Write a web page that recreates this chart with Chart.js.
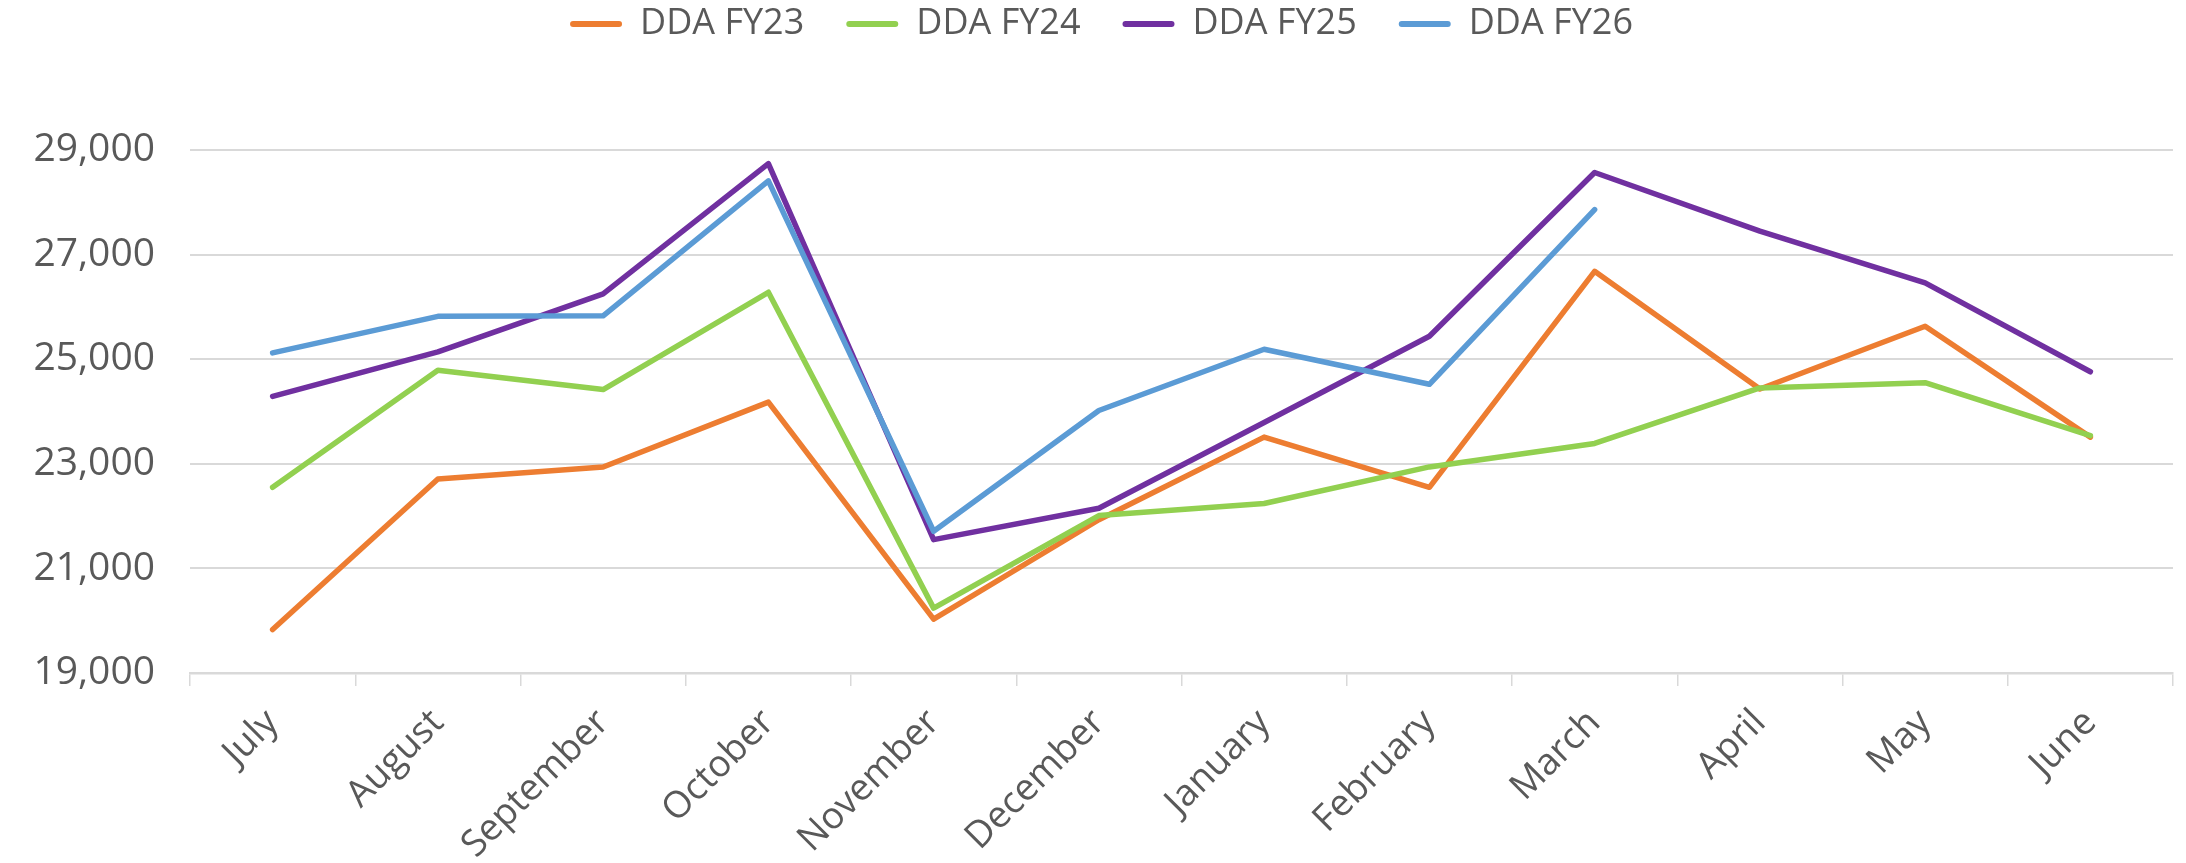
<!DOCTYPE html>
<html>
<head>
<meta charset="utf-8">
<script src="https://cdn.jsdelivr.net/npm/chart.js@4/dist/chart.umd.min.js"></script>
<style>
html,body{margin:0;padding:0;background:#fff;}
#wrap{width:2186px;height:863px;position:relative;}
</style>
</head>
<body>
<div id="wrap"><canvas id="c" width="2186" height="863"></canvas></div>
<script>
const months = ["July","August","September","October","November","December","January","February","March","April","May","June"];
const seriesNames = ["DDA FY23","DDA FY24","DDA FY25","DDA FY26"];
const fy23 = [19830,22710,22940,24180,20030,21930,23510,22550,26680,24430,25630,23510];
const fy24 = [22550,24790,24420,26280,20240,22010,22240,22940,23390,24450,24550,23540];
const fy25 = [24290,25140,26250,28740,21550,22150,23790,25440,28570,27450,26460,24760];
const fy26 = [25120,25820,25830,28410,21710,24020,25190,24520,27860,null,null,null];
const colors = ["#ED7D31","#92D050","#7030A0","#5B9BD5"];
const yTicks = [19000,21000,23000,25000,27000,29000];

const FONT = "'Open Sans', 'Noto Sans', sans-serif";
const TXT = "#595959";
const GRID = "#D9D9D9";

const allData = [fy23, fy24, fy25, fy26];
const datasets = allData.map((d, i) => ({
  label: seriesNames[i],
  data: d,
  borderColor: colors[i],
  backgroundColor: colors[i],
  borderWidth: 5.5,
  pointRadius: 0,
  pointHoverRadius: 0,
  tension: 0,
  fill: false,
  spanGaps: false,
  borderCapStyle: 'round',
  borderJoinStyle: 'round',
  order: allData.length - 1 - i
}));

const legendSpace = {
  id: 'legendSpace',
  beforeInit(chart) {
    const orig = chart.legend.fit;
    chart.legend.fit = function () {
      orig.call(this);
      this.height = 186;
    };
  }
};

new Chart(document.getElementById('c'), {
  type: 'line',
  data: { labels: months, datasets },
  plugins: [legendSpace],
  options: {
    responsive: false,
    animation: false,
    events: [],
    layout: { padding: { top: -36, left: 30, right: 13, bottom: 0 } },
    plugins: {
      tooltip: { enabled: false },
      legend: {
        position: 'top',
        align: 'center',
        labels: {
          font: { family: FONT, size: 36 },
          color: TXT,
          boxWidth: 52,
          boxHeight: 6,
          padding: 42,
          useBorderRadius: true,
          borderRadius: 3,
          sort: (a, b) => a.datasetIndex - b.datasetIndex,
          generateLabels(chart) {
            return chart.data.datasets.map((ds, i) => ({
              text: ds.label,
              fillStyle: ds.borderColor,
              strokeStyle: ds.borderColor,
              lineWidth: 0,
              hidden: false,
              datasetIndex: i,
              fontColor: TXT,
              borderRadius: 3
            }));
          }
        }
      }
    },
    scales: {
      x: {
        type: 'category',
        offset: true,
        grid: {
          display: true,
          offset: true,
          drawOnChartArea: false,
          drawTicks: true,
          tickLength: 13,
          color: GRID,
          lineWidth: 1.5
        },
        border: { display: true, color: GRID, width: 2.5 },
        ticks: {
          font: { family: FONT, size: 37 },
          color: TXT,
          maxRotation: 45,
          minRotation: 45,
          autoSkip: false,
          padding: 15
        },
        afterFit(scale) { scale.height = 190; }
      },
      y: {
        min: 19000,
        max: 29000,
        afterBuildTicks(scale) { scale.ticks = yTicks.map(v => ({ value: v })); },
        grid: {
          color: GRID,
          lineWidth: 2,
          drawTicks: false
        },
        border: { display: false },
        ticks: {
          font: { family: FONT, size: 39 },
          color: TXT,
          padding: 35,
          callback: v => v.toLocaleString('en-US')
        },
        afterFit(scale) { scale.width = 160; }
      }
    }
  }
});
</script>
</body>
</html>
